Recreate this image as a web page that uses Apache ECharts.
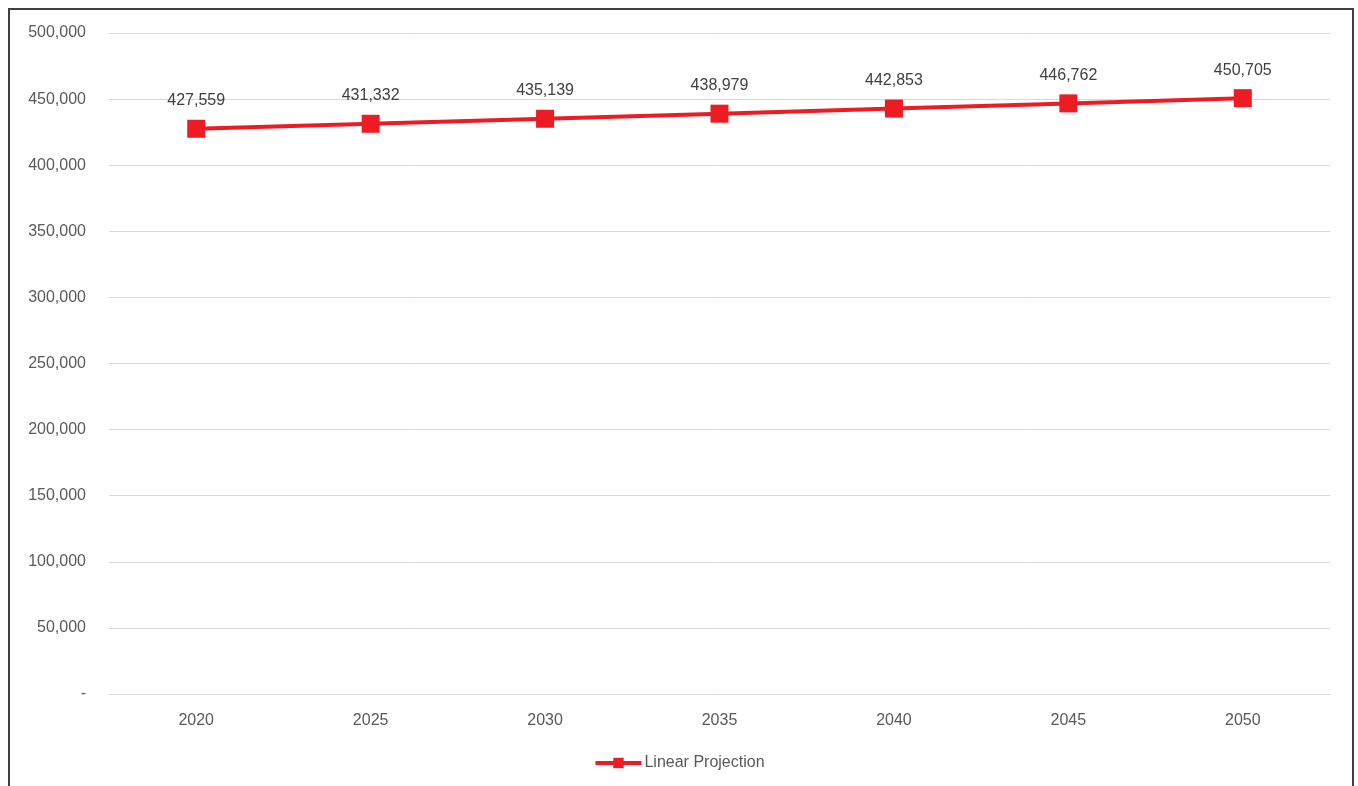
<!DOCTYPE html>
<html>
<head>
<meta charset="utf-8">
<script src="https://cdn.jsdelivr.net/npm/echarts@6/dist/echarts.min.js"></script>
<style>
html,body{margin:0;padding:0;background:#fff;}
#chart{width:1358px;height:786px;}
</style>
</head>
<body>
<div id="chart"></div>
<script>
const years = ['2020','2025','2030','2035','2040','2045','2050'];
const linearProjection = [427559, 431332, 435139, 438979, 442853, 446762, 450705];
const seriesName = 'Linear Projection';

const chart = echarts.init(document.getElementById('chart'));
const fmt = v => v === 0 ? '-' : v.toLocaleString('en-US');
chart.setOption({
  animation: false,
  backgroundColor: '#fff',
  textStyle: {fontFamily: 'Liberation Sans, Arial, sans-serif'},
  graphic: [{
    type: 'rect',
    shape: {x: 9, y: 9, width: 1344, height: 800},
    style: {fill: 'none', stroke: '#404040', lineWidth: 2},
    silent: true
  }],
  grid: {left: 109, right: 28, top: 33, bottom: 92},
  xAxis: {
    type: 'category',
    data: years,
    boundaryGap: true,
    axisLine: {show: true, lineStyle: {color: '#d9d9d9', width: 1}},
    axisTick: {show: false},
    axisLabel: {color: '#595959', fontSize: 16, margin: 19}
  },
  yAxis: {
    type: 'value',
    min: 0, max: 500000, interval: 50000,
    axisLine: {show: false},
    axisTick: {show: false},
    splitLine: {lineStyle: {color: '#d9d9d9', width: 1}},
    axisLabel: {color: '#595959', fontSize: 16, margin: 23, padding: [4,0,0,0], formatter: fmt}
  },
  legend: {
    bottom: 10,
    left: 'center',
    itemWidth: 46,
    itemHeight: 13,
    itemGap: 10,
    lineStyle: {width: 4},
    textStyle: {color: '#595959', fontSize: 16, padding: [0,0,0,-2]},
    data: [seriesName]
  },
  series: [{
    name: seriesName,
    type: 'line',
    data: linearProjection,
    symbol: 'rect',
    symbolSize: 18,
    lineStyle: {color: '#ED1C24', width: 4},
    itemStyle: {color: '#ED1C24'},
    label: {
      show: true,
      position: 'top',
      distance: 11,
      color: '#404040',
      fontSize: 16,
      formatter: p => p.value.toLocaleString('en-US')
    }
  }]
});
</script>
</body>
</html>
